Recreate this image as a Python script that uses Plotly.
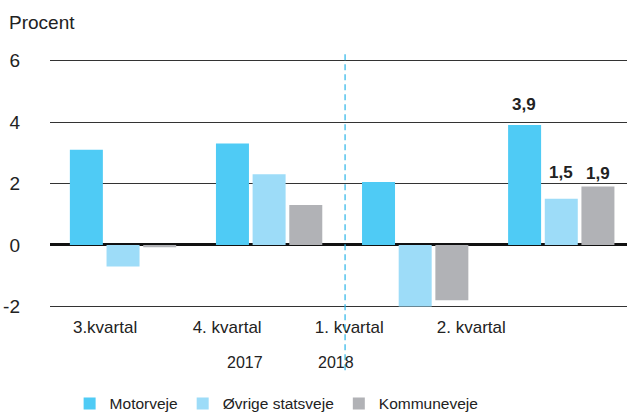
import plotly.graph_objects as go

categories = ["3.kvartal", "4. kvartal", "1. kvartal", "2. kvartal"]
years = ["2017", "2018"]
series_names = ["Motorveje", "Øvrige statsveje", "Kommuneveje"]
motorveje = [3.1, 3.3, 2.05, 3.9]
ovrige = [-0.7, 2.3, -2.0, 1.5]
kommune = [-0.07, 1.3, -1.8, 1.9]
y_ticks = [-2, 0, 2, 4, 6]

colors = ["#4FCBF5", "#9DDCF8", "#B1B2B6"]
FONT = "Liberation Sans, Arial, sans-serif"

fig = go.Figure()
for name, vals, col in zip(series_names, [motorveje, ovrige, kommune], colors):
    fig.add_trace(go.Bar(
        x=categories, y=vals, name=name,
        marker=dict(color=col, line=dict(width=0)),
        hoverinfo="skip",
    ))

# invisible helper trace so the label axis is drawn
fig.add_trace(go.Scatter(x=[0], y=[0], xaxis="x2", mode="markers",
                         marker=dict(opacity=0), showlegend=False, hoverinfo="skip"))

# value labels for last quarter
label_shift = {"Motorveje": 21, "Øvrige statsveje": 26, "Kommuneveje": 13}
label_xshift = {"Motorveje": -37, "Øvrige statsveje": 0, "Kommuneveje": 37}
for name, vals in zip(series_names, [motorveje, ovrige, kommune]):
    v = vals[3]
    fig.add_annotation(
        x=categories[3], y=v, xref="x", yref="y",
        text="<b>" + f"{v:.1f}".replace(".", ",") + "</b>",
        showarrow=False, yanchor="middle",
        xshift=label_xshift[name], yshift=label_shift[name],
        font=dict(family=FONT, size=17, color="#222"),
    )

# year labels
fig.add_annotation(x=0.97, y=-0.219, xref="x", yref="paper", text=years[0],
                   showarrow=False, xanchor="right", yanchor="middle",
                   font=dict(family=FONT, size=16, color="#222"))
fig.add_annotation(x=1.32, y=-0.219, xref="x", yref="paper", text=years[1],
                   showarrow=False, xanchor="left", yanchor="middle",
                   font=dict(family=FONT, size=16, color="#222"))

# y-axis title
fig.add_annotation(x=-0.075, y=1.145, xref="paper", yref="paper", text="Procent",
                   showarrow=False, xanchor="left", yanchor="middle",
                   font=dict(family=FONT, size=19, color="#222"))

# year separator
fig.add_shape(type="line", xref="x", yref="paper", x0=1.52, x1=1.52, y0=-0.25, y1=1.02,
              line=dict(color="#2AB5E8", width=1.2, dash="6px,4px"))

fig.update_layout(
    width=627, height=412,
    margin=dict(l=50, r=0, t=58.5, b=103.5, autoexpand=False),
    paper_bgcolor="white", plot_bgcolor="white",
    barmode="group", bargap=0.247, bargroupgap=0.1,
    font=dict(family=FONT, color="#222"),
    showlegend=True,
    legend=dict(orientation="h", x=0.034, xanchor="left", y=-0.385, yanchor="middle",
                font=dict(family=FONT, size=15.5, color="#222"), traceorder="normal",
                bgcolor="rgba(0,0,0,0)"),
    xaxis=dict(range=[-0.5, 3.45], showticklabels=False, showgrid=False, zeroline=False,
               showline=False, ticks="", automargin=False),
    xaxis2=dict(overlaying="x", anchor="y", side="bottom", range=[-0.451, 4.275],
                tickvals=[0, 1, 2, 3], ticktext=categories, showgrid=False, zeroline=False,
                showline=False, ticks="", ticklabelstandoff=7, automargin=False,
                tickfont=dict(family=FONT, size=17, color="#222")),
    yaxis=dict(range=[-2.05, 6.05], tickvals=y_ticks, ticktext=[str(t) for t in y_ticks],
               showgrid=True, gridcolor="#333333", gridwidth=1.2,
               zeroline=True, zerolinecolor="#111111", zerolinewidth=2.5,
               showline=False, ticks="", ticklabelstandoff=29, automargin=False,
               tickfont=dict(family=FONT, size=19, color="#222")),
)

fig.write_html("out.html", config={"displayModeBar": False},
               post_script="document.body.style.margin='0px';")
